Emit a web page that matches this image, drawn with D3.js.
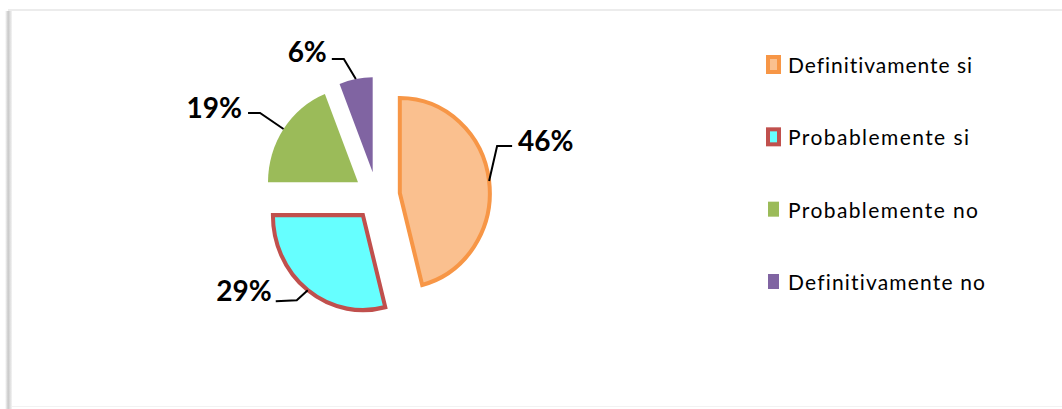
<!DOCTYPE html>
<html>
<head>
<meta charset="utf-8">
<script src="https://cdn.jsdelivr.net/npm/d3@7"></script>
<style>
  html, body { margin: 0; padding: 0; background: #fff; }
  svg { display: block; }
  text { font-variant-ligatures: none; font-feature-settings: "liga" 0, "clig" 0; }
</style>
</head>
<body>
<svg id="chart" width="1062" height="409"></svg>
<script>
// Survey answers and their shares (percent)
const categories = ["Definitivamente si", "Probablemente si", "Probablemente no", "Definitivamente no"];
const values = [46, 29, 19, 6];
const labels = ["46%", "29%", "19%", "6%"];
const fills = ["#FAC08F", "#66FFFF", "#9BBB59", "#8064A2"];
const strokes = ["#F79646", "#C0504D", null, null];

const svg = d3.select("#chart");
const W = 1062, H = 409;

// chart frame: faint top/bottom rules and a soft shadow on the left edge
const defs = svg.append("defs");
const g1 = defs.append("linearGradient").attr("id", "leftShade").attr("x1", 0).attr("x2", 1);
g1.append("stop").attr("offset", "0%").attr("stop-color", "#ffffff");
g1.append("stop").attr("offset", "45%").attr("stop-color", "#c8c8c8");
g1.append("stop").attr("offset", "100%").attr("stop-color", "#f4f4f4");
svg.append("rect").attr("x", 5).attr("y", 11).attr("width", 7).attr("height", H - 11).attr("fill", "url(#leftShade)");
svg.append("rect").attr("x", 8).attr("y", 9).attr("width", W - 8).attr("height", 2).attr("fill", "#ececec");
svg.append("rect").attr("x", 12).attr("y", 406).attr("width", W - 12).attr("height", 1).attr("fill", "#f2f2f2");

// exploded pie (slightly taller than wide)
const cx = 377, cy = 196, R = 90, explode = 23, sy = 1.055;
const pie = d3.pie().sort(null).value(d => d)(values);
const arc = d3.arc().innerRadius(0).outerRadius(R);

const gp = svg.append("g").attr("transform", `translate(${cx},${cy}) scale(1,${sy})`);
const dir = a => [Math.sin(a), -Math.cos(a)];

pie.forEach((p, i) => {
  const mid = (p.startAngle + p.endAngle) / 2;
  const [ux, uy] = dir(mid);
  gp.append("path")
    .attr("d", arc(p))
    .attr("transform", `translate(${ux * explode},${uy * explode})`)
    .attr("fill", fills[i])
    .attr("stroke", strokes[i] || "none")
    .attr("stroke-width", strokes[i] ? 4 : 0)
    .attr("stroke-linejoin", "miter");
});

// data labels with leader lines, starting on each slice's outer edge
const leader = [
  { elbow: [8, -35], end: [23, -35], tdx: 6, tdy: 5, anchor: "start" },
  { elbow: [-11, 10], end: [-32, 11], tdx: -4, tdy: 0, anchor: "end" },
  { elbow: [-23.5, -16], end: [-35.5, -16], tdx: -6, tdy: 5, anchor: "end" },
  { elbow: [-12, -20], end: [-24, -20], tdx: -5, tdy: 3, anchor: "end" }
];
const glab = svg.append("g");
pie.forEach((p, i) => {
  const mid = (p.startAngle + p.endAngle) / 2;
  const [ux, uy] = dir(mid);
  const x0 = cx + ux * (explode + R), y0 = cy + uy * (explode + R) * sy;
  const L = leader[i];
  const pts = [[x0, y0], [x0 + L.elbow[0], y0 + L.elbow[1]], [x0 + L.end[0], y0 + L.end[1]]];
  glab.append("path")
    .attr("d", d3.line()(pts))
    .attr("fill", "none")
    .attr("stroke", "#000")
    .attr("stroke-width", 2);
  glab.append("text")
    .attr("x", pts[2][0] + L.tdx)
    .attr("y", pts[2][1] + L.tdy)
    .attr("text-anchor", L.anchor)
    .attr("font-family", "Lato, 'Open Sans', sans-serif")
    .attr("font-weight", "bold")
    .attr("font-size", 28)
    .attr("fill", "#000")
    .text(labels[i]);
});

// legend
const ly = d3.scalePoint().domain(categories).range([73, 290]);
const legendWidths = [184, 181, 190, 197];
const gl = svg.append("g");
categories.forEach((c, i) => {
  const y = ly(c);
  gl.append("rect")
    .attr("x", 768).attr("y", y - 16).attr("width", 11).attr("height", 15)
    .attr("fill", fills[i])
    .attr("stroke", strokes[i] || "none")
    .attr("stroke-width", strokes[i] ? 4 : 0);
  gl.append("text")
    .attr("x", 788).attr("y", y)
    .attr("font-family", "Lato, 'Open Sans', sans-serif")
    .attr("font-size", 21)
    .attr("fill", "#000")
    .attr("textLength", legendWidths[i])
    .attr("lengthAdjust", "spacing")
    .text(c);
});
</script>
</body>
</html>
